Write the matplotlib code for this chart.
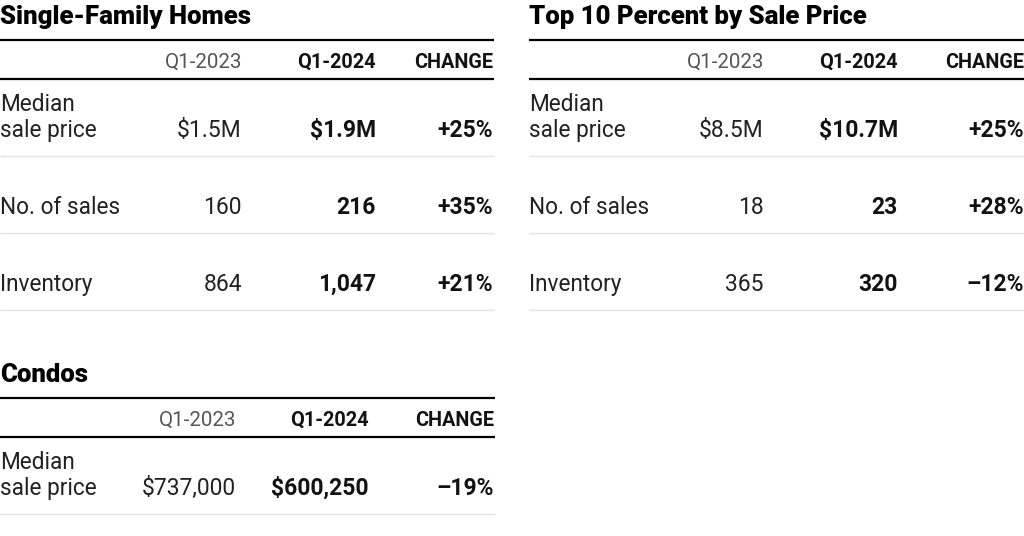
import matplotlib.pyplot as plt

# table contents
sfh_title = "Single-Family Homes"
top_title = "Top 10 Percent by Sale Price"
condo_title = "Condos"
col_heads = ["Q1-2023", "Q1-2024", "CHANGE"]

sfh_rows = ["Median\nsale price", "No. of sales", "Inventory"]
sfh_2023 = ["$1.5M", "160", "864"]
sfh_2024 = ["$1.9M", "216", "1,047"]
sfh_change = ["+25%", "+35%", "+21%"]

top_rows = ["Median\nsale price", "No. of sales", "Inventory"]
top_2023 = ["$8.5M", "18", "365"]
top_2024 = ["$10.7M", "23", "320"]
top_change = ["+25%", "+28%", "\u201312%"]

condo_rows = ["Median\nsale price"]
condo_2023 = ["$737,000"]
condo_2024 = ["$600,250"]
condo_change = ["\u201319%"]

FONT = "Roboto"
TXT = "#121212"


def draw_table(ax, x0, x1, ytop, title, cols_x, rows, v1, v2, v3, row_gap=77):
    # title and header rules
    ax.text(x0, ytop, title, fontsize=18.5, fontweight="heavy", family=FONT,
            color="black", va="baseline", ha="left")
    ax.plot([x0, x1], [ytop + 16, ytop + 16], color="black", lw=1.6, solid_capstyle="butt")
    hy = ytop + 44
    ax.text(cols_x[0], hy, col_heads[0], fontsize=14.8, family=FONT, fontweight="normal",
            color="#555555", ha="right", va="baseline")
    ax.text(cols_x[1], hy, col_heads[1], fontsize=14.3, family=FONT, fontweight="bold",
            color=TXT, ha="right", va="baseline")
    ax.text(cols_x[2], hy, col_heads[2], fontsize=14.3, family=FONT, fontweight="bold",
            color=TXT, ha="right", va="baseline")
    ax.plot([x0, x1], [ytop + 55, ytop + 55], color="black", lw=1.6, solid_capstyle="butt")

    for i, lab in enumerate(rows):
        by = ytop + 113 + i * row_gap
        lines = lab.split("\n")
        for j, ln in enumerate(reversed(lines)):
            ax.text(x0, by - j * 26, ln, fontsize=16.3, family=FONT, fontweight="normal",
                    color="#222222", ha="left", va="baseline")
        ax.text(cols_x[0], by, v1[i], fontsize=16.5, family=FONT, fontweight="normal",
                color="#222222", ha="right", va="baseline")
        ax.text(cols_x[1], by, v2[i], fontsize=16.5, family=FONT, fontweight="bold",
                color=TXT, ha="right", va="baseline")
        ax.text(cols_x[2], by, v3[i], fontsize=16.5, family=FONT, fontweight="bold",
                color=TXT, ha="right", va="baseline")
        ax.plot([x0, x1], [by + 19, by + 19], color="#e2e2e2", lw=1.0, solid_capstyle="butt")


fig = plt.figure(figsize=(10.24, 5.36), dpi=100)
ax = fig.add_axes([0, 0, 1, 1])
ax.set_xlim(0, 1024)
ax.set_ylim(536, 0)
ax.axis("off")

draw_table(ax, 0, 494, 24, sfh_title, [242, 376, 493], sfh_rows, sfh_2023, sfh_2024, sfh_change)
draw_table(ax, 529, 1024, 24, top_title, [764, 898, 1024], top_rows, top_2023, top_2024, top_change)
draw_table(ax, 0, 495, 382, condo_title, [236, 369, 494], condo_rows, condo_2023, condo_2024, condo_change)

fig.savefig("out.png", dpi=100, facecolor="white")
